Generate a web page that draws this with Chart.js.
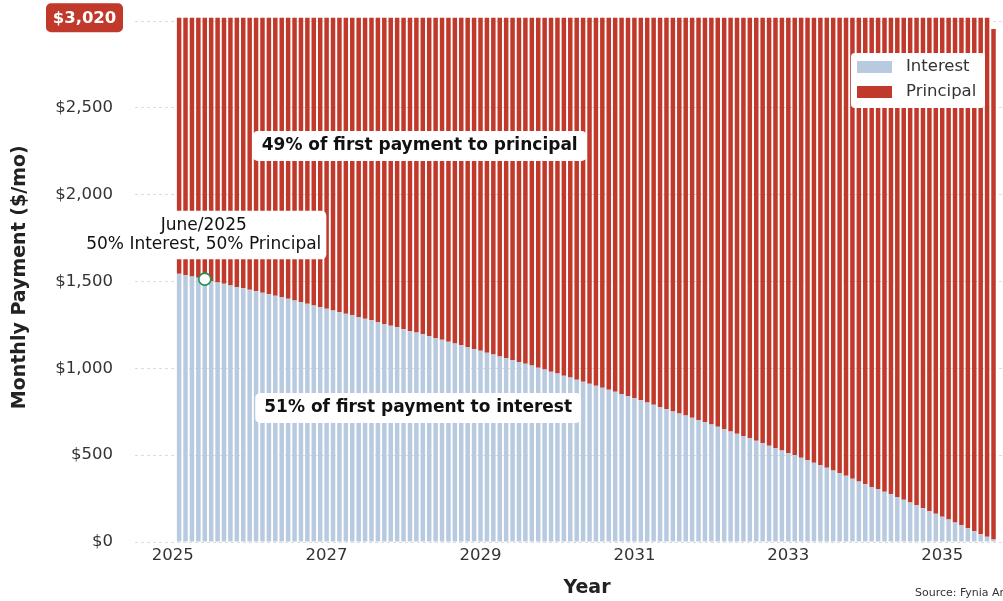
<!DOCTYPE html>
<html lang="en">
<head>
  <meta charset="UTF-8">
  <title>Monthly Payment: Interest vs Principal</title>
  <style>
    body { margin: 0; background: #fff; }
    #grafico { width: 1003px; height: 601px; }
  </style>
</head>
<body>
  <div id="grafico">
    <canvas id="PagamentoChart" width="1003" height="601"></canvas>
  </div>
<script src="https://cdn.jsdelivr.net/npm/chart.js"></script>
<script>
  // first bar is Feb 2025, one bar per month
  const startYear = 2025;
  const startMonth = 2;

  // interest part of each monthly payment ($)
  const interest = [
    1545, 1537, 1530, 1522, 1514, 1503, 1495, 1487, 1478, 1469, 1461, 1453,
    1444, 1436, 1427, 1418, 1410, 1401, 1391, 1382, 1373, 1362, 1353, 1343,
    1334, 1325, 1315, 1306, 1296, 1286, 1277, 1267, 1256, 1246, 1237, 1226,
    1216, 1207, 1196, 1185, 1175, 1165, 1154, 1144, 1133, 1123, 1112, 1101,
    1090, 1080, 1068, 1058, 1048, 1037, 1027, 1016, 1004, 993, 981, 970,
    958, 947, 935, 923, 911, 900, 888, 877, 866, 852, 840, 828,
    817, 804, 791, 778, 765, 752, 740, 728, 716, 703, 690, 677,
    664, 651, 637, 624, 610, 597, 583, 569, 555, 541, 527, 513,
    499, 485, 471, 456, 442, 427, 412, 397, 382, 365, 348, 332,
    317, 305, 290, 275, 259, 243, 227, 211, 195, 179, 163, 146,
    130, 113, 96, 79, 62, 45, 30, 15
  ];
  const monthlyPayment = 3020;
  const finalPayment = 2955;

  const xTicks = [2025, 2027, 2029, 2031, 2033, 2035];
  const yTicks = [0, 500, 1000, 1500, 2000, 2500, 3000];
  const seriesNames = ['Interest', 'Principal'];
  const seriesColors = ['#b8cadf', '#c0392b'];
  const markMonth = '2025-06';

  // month labels and their position in decimal years
  const months = interest.map((_, i) => {
    const m = startMonth - 1 + i;
    return { year: startYear + Math.floor(m / 12), month: (m % 12) + 1 };
  });
  const monthKeys = months.map(d => d.year + '-' + String(d.month).padStart(2, '0'));
  const xPos = months.map(d => d.year + (d.month - 1) / 12);
  const payments = interest.map((_, i) => i === interest.length - 1 ? finalPayment : monthlyPayment);
  const principal = interest.map((v, i) => payments[i] - v);

  const markIdx = monthKeys.indexOf(markMonth);
  const pct = v => Math.round(v * 100) + '%';
  const monthNames = ['January', 'February', 'March', 'April', 'May', 'June', 'July',
    'August', 'September', 'October', 'November', 'December'];

  const FONTE = '"DejaVu Sans", sans-serif';

  function caixaTexto(ctx, linhas, cx, cy, font, padX, padY, lineH) {
    ctx.font = font;
    const w = Math.max(...linhas.map(l => ctx.measureText(l).width)) + padX * 2;
    const h = linhas.length * lineH + padY * 2;
    ctx.fillStyle = '#fff';
    ctx.beginPath();
    ctx.roundRect(cx - w / 2, cy - h / 2, w, h, 5);
    ctx.fill();
    ctx.fillStyle = '#111';
    ctx.textAlign = 'center';
    ctx.textBaseline = 'middle';
    linhas.forEach((l, i) => {
      ctx.fillText(l, cx, cy - h / 2 + padY + lineH * (i + 0.5));
    });
  }

  // legend, notes, badge and axis titles drawn over the bars
  const extras = {
    id: 'extras',
    afterDatasetsDraw(chart) {
      const { ctx, chartArea: area, scales: { x, y } } = chart;
      ctx.save();

      // notes
      const first = payments[0];
      caixaTexto(ctx, [pct(principal[0] / first) + ' of first payment to principal'],
        x.getPixelForValue(2028.21), y.getPixelForValue(2281),
        'bold 17px ' + FONTE, 9, 6, 18);
      caixaTexto(ctx, [pct(interest[0] / first) + ' of first payment to interest'],
        x.getPixelForValue(2028.19), y.getPixelForValue(772),
        'bold 17px ' + FONTE, 9, 6, 18);

      const mx = x.getPixelForValue(xPos[markIdx]);
      const mp = payments[markIdx];
      caixaTexto(ctx, [
        monthNames[months[markIdx].month - 1] + '/' + months[markIdx].year,
        pct(interest[markIdx] / mp) + ' Interest, ' + pct(principal[markIdx] / mp) + ' Principal'
      ], mx - 1, y.getPixelForValue(1768), '17px ' + FONTE, 5, 6, 18.3);

      // marker on the interest line
      ctx.beginPath();
      ctx.arc(mx, y.getPixelForValue(interest[markIdx]), 6, 0, Math.PI * 2);
      ctx.fillStyle = '#fff';
      ctx.fill();
      ctx.lineWidth = 1.6;
      ctx.strokeStyle = '#23924f';
      ctx.stroke();

      // legend box
      const lx = area.right - 152, ly = 53;
      ctx.fillStyle = '#fff';
      ctx.beginPath();
      ctx.roundRect(lx, ly, 134, 55, 4);
      ctx.fill();
      ctx.font = '16.5px ' + FONTE;
      ctx.textAlign = 'left';
      ctx.textBaseline = 'middle';
      seriesNames.forEach((name, i) => {
        const ry = ly + 14 + i * 25;
        ctx.fillStyle = seriesColors[i];
        ctx.fillRect(lx + 6, ry - 6, 35, 12);
        ctx.fillStyle = '#333';
        ctx.fillText(name, lx + 55, ry);
      });

      // payment badge on the y axis
      const by = y.getPixelForValue(monthlyPayment);
      ctx.fillStyle = seriesColors[1];
      ctx.beginPath();
      ctx.roundRect(area.left - 89, by - 14.5, 77, 29, 5);
      ctx.fill();
      ctx.fillStyle = '#fff';
      ctx.font = 'bold 16.5px ' + FONTE;
      ctx.textAlign = 'center';
      ctx.fillText('$' + monthlyPayment.toLocaleString('en-US'), area.left - 50.5, by + 1);

      // axis titles
      ctx.fillStyle = '#222';
      ctx.font = 'bold 19px ' + FONTE;
      ctx.fillText('Year', 587, 588);
      ctx.save();
      ctx.translate(20, (area.top + area.bottom) / 2);
      ctx.rotate(-Math.PI / 2);
      ctx.fillText('Monthly Payment ($/mo)', 0, 0);
      ctx.restore();

      ctx.font = '11px ' + FONTE;
      ctx.textAlign = 'left';
      ctx.fillStyle = '#333';
      ctx.fillText('Source: Fynia Ar', 915, 593);
      ctx.restore();
    }
  };

  const ctx = document.getElementById('PagamentoChart').getContext('2d');
  new Chart(ctx, {
    type: 'bar',
    data: {
      datasets: [
        {
          label: seriesNames[0],
          data: interest.map((v, i) => ({ x: xPos[i], y: v })),
          backgroundColor: seriesColors[0]
        },
        {
          label: seriesNames[1],
          data: principal.map((v, i) => ({ x: xPos[i], y: v })),
          backgroundColor: seriesColors[1]
        }
      ]
    },
    options: {
      responsive: false,
      animation: false,
      devicePixelRatio: 1,
      layout: { padding: { top: 12.5, right: 0, left: 0, bottom: 0 } },
      datasets: { bar: { categoryPercentage: 1, barPercentage: 0.7, borderWidth: 0 } },
      plugins: {
        legend: { display: false },
        tooltip: { enabled: false }
      },
      scales: {
        x: {
          type: 'linear',
          stacked: true,
          offset: false,
          min: 2024.51,
          max: 2035.79,
          afterBuildTicks: s => { s.ticks = xTicks.map(v => ({ value: v })); },
          afterFit: s => { s.height = 59; s.paddingLeft = 0; s.paddingRight = 0; },
          grid: { display: false, drawTicks: false },
          border: { display: false },
          ticks: {
            padding: 4,
            color: '#333',
            font: { family: FONTE, size: 16.5 },
            callback: v => String(v)
          }
        },
        y: {
          stacked: true,
          min: 0,
          max: 3050,
          afterBuildTicks: s => { s.ticks = yTicks.map(v => ({ value: v })); },
          afterFit: s => { s.width = 135; s.paddingTop = 0; s.paddingBottom = 0; },
          grid: { color: '#dddddd', lineWidth: 1, drawTicks: false },
          border: { display: false, dash: [3, 3] },
          ticks: {
            padding: 22,
            color: '#333',
            font: { family: FONTE, size: 16.5 },
            callback: v => v === 3000 ? '' : '$' + v.toLocaleString('en-US')
          }
        }
      }
    },
    plugins: [extras]
  });
</script>
</body>
</html>
